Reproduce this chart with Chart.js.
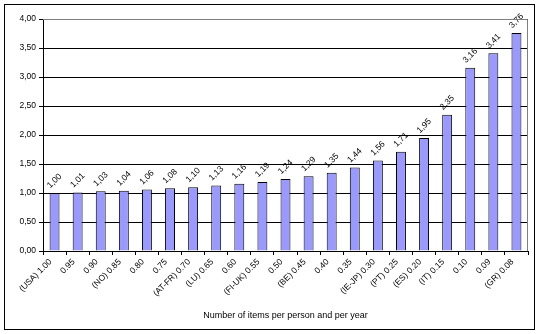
<!DOCTYPE html>
<html>
<head>
<meta charset="utf-8">
<script src="https://cdn.jsdelivr.net/npm/chart.js@4"></script>
<style>
  html, body { margin: 0; padding: 0; background: #fff; }
  #wrap { width: 539px; height: 334px; position: relative; }
</style>
</head>
<body>
<div id="wrap"><canvas id="chart" width="539" height="334"></canvas></div>
<script>
// Data
const LABELS = ['(USA) 1.00', '0.95', '0.90', '(NO) 0.85', '0.80', '0.75', '(AT-FR) 0.70', '(LU) 0.65',
  '0.60', '(FI-UK) 0.55', '0.50', '(BE) 0.45', '0.40', '0.35', '(IE-JP) 0.30', '(PT) 0.25',
  '(ES) 0.20', '(IT) 0.15', '0.10', '0.09', '(GR) 0.08'];
const VALUES = [1.00, 1.01, 1.03, 1.04, 1.06, 1.08, 1.10, 1.13, 1.16, 1.19, 1.24, 1.29,
  1.35, 1.44, 1.56, 1.71, 1.95, 2.35, 3.16, 3.41, 3.76];
const X_TITLE = 'Number of items per person and per year';

const FONT = 'Arial, "Liberation Sans", sans-serif';
const comma = v => v.toFixed(2).replace('.', ',');

// outer frame + gray top/right edge of plot area
const framePlugin = {
  id: 'frame',
  afterDraw(chart) {
    const ctx = chart.ctx, a = chart.chartArea;
    ctx.save();
    ctx.strokeStyle = '#000';
    ctx.lineWidth = 1;
    ctx.strokeRect(4.5, 4.5, 530, 325);
    ctx.strokeStyle = '#808080';
    ctx.beginPath();
    ctx.moveTo(a.left, a.top + 0.5);
    ctx.lineTo(a.right - 0.5, a.top + 0.5);
    ctx.lineTo(a.right - 0.5, a.bottom);
    ctx.stroke();
    ctx.restore();
  }
};

// rotated value labels above bars
const valueLabels = {
  id: 'valueLabels',
  afterDatasetsDraw(chart) {
    const ctx = chart.ctx;
    const meta = chart.getDatasetMeta(0);
    ctx.save();
    ctx.fillStyle = '#000';
    ctx.font = '8.5px ' + FONT;
    ctx.textAlign = 'center';
    ctx.textBaseline = 'middle';
    meta.data.forEach((bar, i) => {
      ctx.save();
      ctx.translate(bar.x, bar.y - 12);
      ctx.rotate(-Math.PI / 4);
      ctx.fillText(comma(VALUES[i]), 0, 0);
      ctx.restore();
    });
    ctx.restore();
  }
};

new Chart(document.getElementById('chart'), {
  type: 'bar',
  data: {
    labels: LABELS,
    datasets: [{
      data: VALUES,
      backgroundColor: '#9999ff',
      borderColor: '#000',
      borderWidth: 1,
      barPercentage: 0.43,
      categoryPercentage: 1
    }]
  },
  options: {
    responsive: false,
    animation: false,
    devicePixelRatio: 1,
    layout: { padding: { left: 4, right: 11, top: 19, bottom: 0 } },
    plugins: { legend: { display: false }, tooltip: { enabled: false } },
    scales: {
      x: {
        offset: true,
        grid: { offset: true, drawOnChartArea: false, drawTicks: true, tickLength: 4, color: '#000' },
        border: { color: '#000' },
        ticks: {
          color: '#000', font: { family: FONT, size: 8.5 },
          minRotation: 45, maxRotation: 45, autoSkip: false, padding: 2, labelOffset: -4
        },
        title: {
          display: true, text: X_TITLE, color: '#000',
          font: { family: FONT, size: 9 }, padding: { top: 0, bottom: 13 }
        },
        afterFit(scale) { scale.height = 83; }
      },
      y: {
        min: 0, max: 4,
        ticks: {
          stepSize: 0.5, color: '#000', font: { family: FONT, size: 8.5 },
          padding: 3, callback: v => comma(v)
        },
        grid: { color: '#000', tickLength: 4, drawTicks: true },
        border: { color: '#000' },
        afterFit(scale) { scale.width = 39; }
      }
    }
  },
  plugins: [framePlugin, valueLabels]
});
</script>
</body>
</html>
